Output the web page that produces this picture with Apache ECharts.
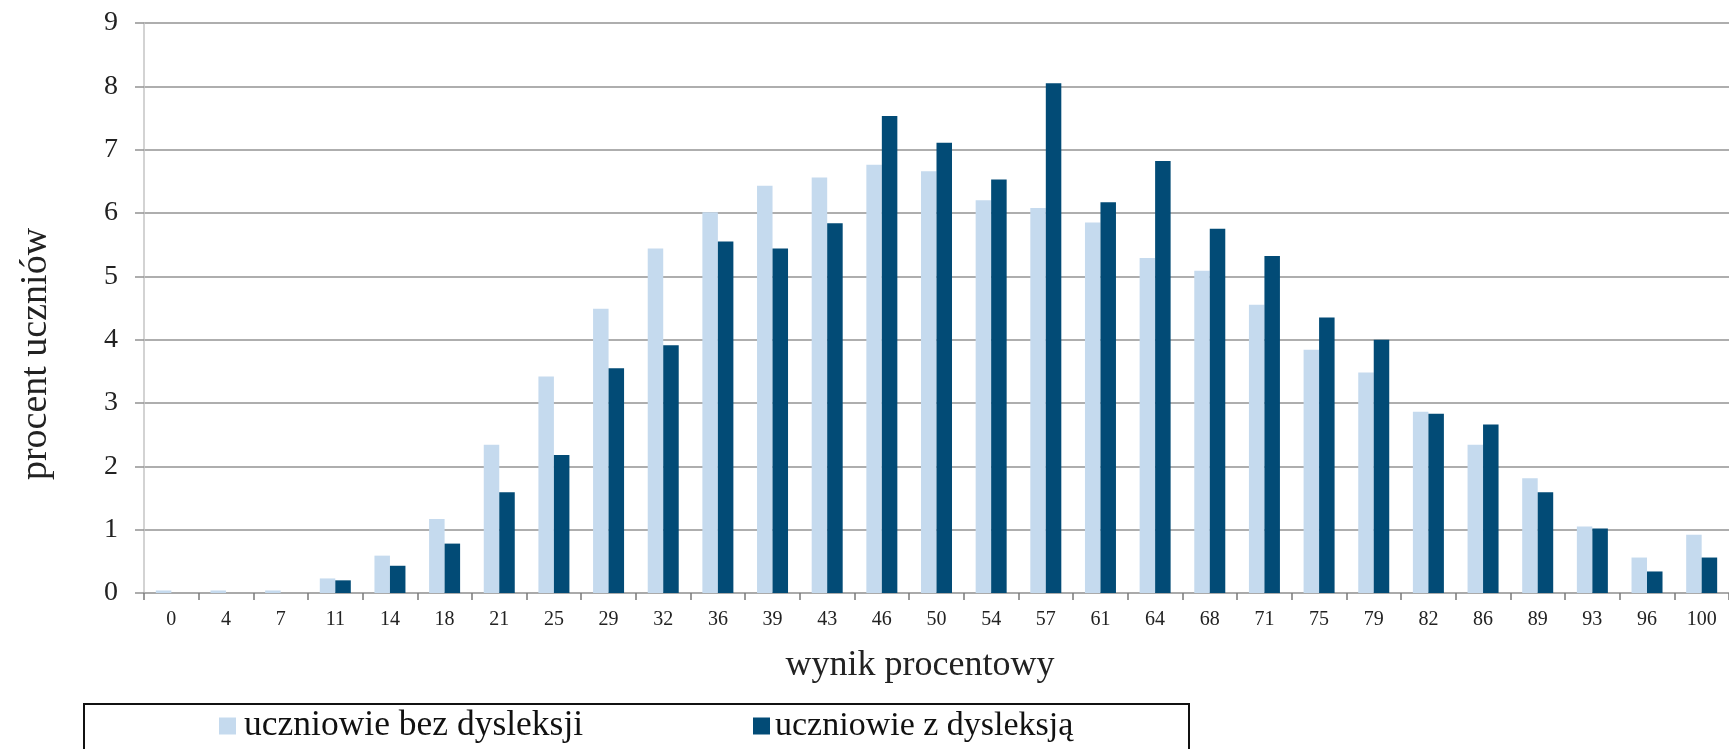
<!DOCTYPE html>
<html>
<head>
<meta charset="utf-8">
<script src="https://cdn.jsdelivr.net/npm/echarts@6/dist/echarts.min.js"></script>
<style>
html,body{margin:0;padding:0;background:#fff;}
#chart{width:1729px;height:749px;}
</style>
</head>
<body>
<div id="chart"></div>
<script>
var categories = ['0','4','7','11','14','18','21','25','29','32','36','39','43','46','50','54','57','61','64','68','71','75','79','82','86','89','93','96','100'];
var seriesNames = ['uczniowie bez dysleksji', 'uczniowie z dysleksją'];
var bezDysleksji = [0.04,0.04,0.04,0.23,0.59,1.17,2.34,3.42,4.49,5.44,6.01,6.43,6.56,6.76,6.66,6.20,6.08,5.85,5.29,5.09,4.55,3.84,3.48,2.86,2.34,1.81,1.05,0.56,0.92];
var zDysleksja = [0,0,0,0.20,0.43,0.78,1.59,2.18,3.55,3.91,5.55,5.44,5.84,7.53,7.11,6.53,8.05,6.17,6.82,5.75,5.32,4.35,4.00,2.83,2.66,1.59,1.02,0.34,0.56];
var yTicks = [0,1,2,3,4,5,6,7,8,9];
var xTitle = 'wynik procentowy';
var yTitle = 'procent uczniów';

var FONT = 'Liberation Serif';
var chart = echarts.init(document.getElementById('chart'), null, {renderer: 'canvas'});
chart.setOption({
  backgroundColor: '#ffffff',
  animation: false,
  grid: {left: 144, right: -7, top: 23, bottom: 156, containLabel: false},
  xAxis: {
    type: 'category',
    data: categories,
    boundaryGap: true,
    axisLine: {show: true, lineStyle: {color: '#a9a9a9', width: 1.5}},
    axisTick: {show: true, length: 7, lineStyle: {color: '#7a7a7a', width: 1.5}},
    axisLabel: {interval: 0, margin: 17, fontFamily: FONT, fontSize: 20, color: '#222'},
    splitLine: {show: false}
  },
  yAxis: {
    type: 'value',
    min: yTicks[0],
    max: yTicks[yTicks.length - 1],
    interval: 1,
    axisLine: {show: true, lineStyle: {color: '#c4c4c4', width: 1.5}},
    axisTick: {show: true, length: 9, lineStyle: {color: '#939393', width: 1.5}},
    axisLabel: {margin: 26, fontFamily: FONT, fontSize: 28, color: '#222'},
    splitLine: {show: true, lineStyle: {color: '#939393', width: 1.5}}
  },
  legend: [
    {
      data: [seriesNames[0]], left: 219, top: 708, padding: 0,
      itemWidth: 17, itemHeight: 17, icon: 'rect',
      textStyle: {fontFamily: FONT, fontSize: 35.5, color: '#111', lineHeight: 36, padding: [0,0,0,3]}
    },
    {
      data: [seriesNames[1]], left: 753, top: 708, padding: 0,
      itemWidth: 17, itemHeight: 17, icon: 'rect',
      textStyle: {fontFamily: FONT, fontSize: 34, color: '#111', lineHeight: 36, padding: [0,0,0,0]}
    }
  ],
  graphic: [
    {type: 'rect', shape: {x: 84, y: 704, width: 1105, height: 80}, style: {fill: 'none', stroke: '#111', lineWidth: 2}, silent: true},
    {type: 'text', x: 920, y: 666, style: {text: xTitle, fontFamily: FONT, fontSize: 36, fill: '#222', textAlign: 'center', textVerticalAlign: 'middle'}},
    {type: 'text', x: 36, y: 354, rotation: Math.PI / 2, style: {text: yTitle, fontFamily: FONT, fontSize: 38, fill: '#222', textAlign: 'center', textVerticalAlign: 'middle'}}
  ],
  series: [
    {name: seriesNames[0], type: 'bar', data: bezDysleksji, barWidth: 15.5, barGap: '0%', itemStyle: {color: '#C5DAEE'}},
    {name: seriesNames[1], type: 'bar', data: zDysleksja, barWidth: 15.5, barGap: '0%', itemStyle: {color: '#024B76'}}
  ]
});
</script>
</body>
</html>
